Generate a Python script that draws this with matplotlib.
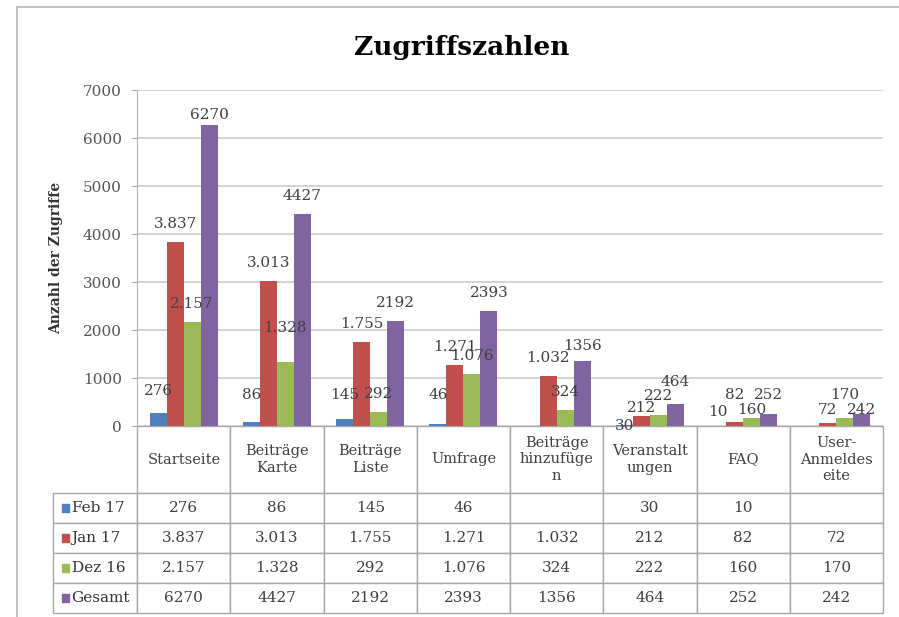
import matplotlib
matplotlib.use("Agg")
from matplotlib import pyplot as plt
from matplotlib.lines import Line2D
import numpy as np

# Daten
kategorien = ["Startseite", "Beiträge\nKarte", "Beiträge\nListe", "Umfrage",
              "Beiträge\nhinzufüge\nn", "Veranstalt\nungen", "FAQ",
              "User-\nAnmeldes\neite"]
serien = ["Feb 17", "Jan 17", "Dez 16", "Gesamt"]
feb17 = [276, 86, 145, 46, None, 30, 10, None]
jan17 = [3837, 3013, 1755, 1271, 1032, 212, 82, 72]
dez16 = [2157, 1328, 292, 1076, 324, 222, 160, 170]
gesamt = [6270, 4427, 2192, 2393, 1356, 464, 252, 242]
farben = ["#4F81BD", "#C0504D", "#9BBB59", "#8064A2"]
y_ticks = [0, 1000, 2000, 3000, 4000, 5000, 6000, 7000]

# Abstand Beschriftung über Balken (px), Ausnahmen wie im Original verschoben
standard_abstand = 11
abstand = {(0, 0): 15, (0, 1): 20, (0, 2): 17, (0, 3): 22, (2, 1): 27,
           (3, 0): 3, (3, 4): 8, (0, 5): -8, (1, 5): 1, (2, 5): 12,
           (3, 5): 15, (0, 6): 7, (1, 6): 20, (2, 6): 1, (3, 6): 12,
           (1, 7): 6, (2, 7): 16, (3, 7): -3}

plt.rcParams['font.family'] = ['DejaVu Serif']
textfarbe = "#404040"


def fmt(v, tausenderpunkt):
    if v is None:
        return ""
    if tausenderpunkt and v >= 1000:
        return "{:,}".format(v).replace(",", ".")
    return str(v)


def main():
    fig = plt.figure(figsize=(8.99, 6.17), dpi=100)
    W, H = 899, 617
    ax = fig.add_axes([137 / W, 1 - 426 / H, (883 - 137) / W, (426 - 90) / H])

    werte = [feb17, jan17, dez16, gesamt]
    x = np.arange(len(kategorien))
    breite = 0.182
    for i, (name, daten, farbe) in enumerate(zip(serien, werte, farben)):
        hoehen = [v if v is not None else 0 for v in daten]
        pos = x + (i - 1.5) * breite
        ax.bar(pos, hoehen, breite, color=farbe, label=name, zorder=3)
        for j, (px, v) in enumerate(zip(pos, daten)):
            if v is None:
                continue
            d = abstand.get((i, j), standard_abstand) * 0.72
            ax.annotate(fmt(v, i < 3), (px, v), xytext=(0, d),
                        textcoords="offset points", ha="center", va="bottom",
                        fontsize=11, color=textfarbe, zorder=4)

    ax.set_xlim(-0.5, len(kategorien) - 0.5)
    ax.set_ylim(0, 7000)
    ax.set_yticks(y_ticks)
    ax.set_yticklabels([str(t) for t in y_ticks], fontsize=11, color="#555555")
    ax.set_xticks([])
    ax.yaxis.grid(True, color="#d0d0d0", linewidth=1.3, zorder=0)
    for s in ["top", "right", "bottom"]:
        ax.spines[s].set_visible(False)
    ax.spines["left"].set_color("#b0b0b0")
    ax.tick_params(axis="y", color="#b0b0b0", length=4, pad=7)
    ax.set_ylabel("Anzahl der Zugriffe", fontsize=10, fontweight="bold",
                  color="#333333", labelpad=14)

    # Datentabelle, erste Spalte = Zeilenbeschriftung
    zellen = [[name] + [fmt(v, i < 3) for v in daten]
              for i, (name, daten) in enumerate(zip(serien, werte))]
    hoehe_ax = 426 - 90
    breite_ax = 883 - 137
    tab_b = (613 - 426) / hoehe_ax
    x0 = -84 / breite_ax
    tab = ax.table(cellText=zellen, colLabels=[""] + kategorien,
                   cellLoc="center", bbox=[x0, -tab_b, 1 - x0, tab_b])
    tab.auto_set_font_size(False)
    for (r, c), zelle in tab.get_celld().items():
        zelle.set_edgecolor("#a8a8a8")
        zelle.set_linewidth(1.0)
        zelle.set_height(67 if r == 0 else 30)
        zelle.set_width(84 if c == 0 else 93)
        zelle.get_text().set_color(textfarbe)
        zelle.get_text().set_fontsize(10.5 if r == 0 else 11)
        if c == 0:
            if r == 0:
                zelle.set_visible(False)
            zelle._loc = "left"
            zelle.PAD = 0.22
            zelle.get_text().set_ha("left")
            zelle.get_text().set_color("#333333")
    # Farbkästchen vor den Zeilenbeschriftungen
    zeilen_y = [-(67 + 30 * k + 15) / hoehe_ax for k in range(4)]
    ax.scatter([x0 + 0.017] * 4, zeilen_y, marker="s", s=30, c=farben,
               transform=ax.transAxes, clip_on=False, zorder=5)

    fig.text(462 / W, 1 - 47 / H, "Zugriffszahlen", fontsize=19,
             fontweight="bold", ha="center", va="center", color="black")

    # Rahmen oben und links
    fig.add_artist(Line2D([17 / W, 1], [1 - 7 / H, 1 - 7 / H],
                          transform=fig.transFigure, color="#b8b8b8", lw=1.2))
    fig.add_artist(Line2D([17 / W, 17 / W], [0, 1 - 7 / H],
                          transform=fig.transFigure, color="#b8b8b8", lw=1.2))

    fig.savefig("out.png", dpi=100)


if __name__ == "__main__":
    main()
